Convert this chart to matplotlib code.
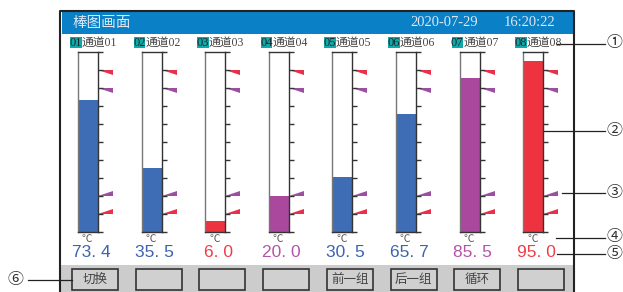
import matplotlib.pyplot as plt
from matplotlib.patches import Rectangle, Polygon
import matplotlib.transforms as mtransforms

# channel data
channel_ids = ["01", "02", "03", "04", "05", "06", "07", "08"]
channel_names = ["通道01", "通道02", "通道03", "通道04", "通道05", "通道06", "通道07", "通道08"]
values = [73.4, 35.5, 6.0, 20.0, 30.5, 65.7, 85.5, 95.0]
bar_colors = ["#3e6db5", "#3e6db5", "#ee3340", "#a9489d",
              "#3e6db5", "#3e6db5", "#a9489d", "#ee3340"]
value_colors = ["#3d63b0", "#3d63b0", "#f03c4a", "#b454a8",
                "#3d63b0", "#3d63b0", "#b454a8", "#f03c4a"]
unit = "℃"

# alarm flags: level, colour, direction (+1 flag above tick, -1 below)
alarm_levels = [90, 80, 20, 10]
alarm_colors = ["#e8304a", "#9b4fa0", "#9b4fa0", "#e8304a"]
alarm_dirs = [-1, -1, 1, 1]

buttons = ["切换", "", "", "", "前一组", "后一组", "循环", ""]
title = "棒图画面"
date_str = "2020-07-29"
time_str = "16:20:22"

CJK = ["Noto Sans CJK SC", "DejaVu Sans"]
SERIF = ["Liberation Serif", "Noto Sans CJK SC"]

W, H = 623, 292
fig = plt.figure(figsize=(W / 100, H / 100), dpi=100)
bg = fig.add_axes([0, 0, 1, 1])
bg.set_xlim(0, W)
bg.set_ylim(H, 0)
bg.axis("off")

# screen frame, title bar, button strip
bg.plot([60, 60, 573.8, 573.8], [292, 10.5, 10.5, 292], color="#222", lw=1.5)
bg.add_patch(Rectangle((61.5, 12), 511.3, 22, color="#0a80c6", lw=0))
bg.text(72, 23, title, color="#dce8f4", fontsize=10.5, family=CJK, va="center")
bg.text(410, 23, date_str, color="#dce8f4", fontsize=10.5, family=SERIF, va="center")
bg.text(555, 23, time_str, color="#dce8f4", fontsize=10.5, family=SERIF, va="center", ha="right")
bg.add_patch(Rectangle((61, 265), 512, 27, color="#cccccc", lw=0))

for i, label in enumerate(buttons):
    bx = 72 + 63.7 * i
    bg.add_patch(Rectangle((bx, 269), 46, 21, facecolor="#d0d0d0", edgecolor="#333", lw=1.2))
    bg.text(bx + 23, 279.5, label, color="#444", fontsize=9, family=CJK, ha="center", va="center")

# bars
bar_top, bar_bottom, bar_w = 51.7, 232.3, 20
for i, v in enumerate(values):
    left = 78 + 63.6 * i
    ax = fig.add_axes([left / W, (H - bar_bottom) / H, bar_w / W, (bar_bottom - bar_top) / H])
    ax.bar(0, v, width=1, color=bar_colors[i])
    ax.set_xlim(-0.5, 0.5)
    ax.set_ylim(0, 100)
    ax.set_xticks([])
    ax.yaxis.tick_right()
    ax.set_yticks(range(0, 101, 10))
    ax.tick_params(axis="y", direction="out", length=3.5, width=1, color="#333", labelright=False)
    for side, c in [("left", "#777"), ("right", "#333"), ("top", "#333"), ("bottom", "#333")]:
        ax.spines[side].set_color(c)
        ax.spines[side].set_linewidth(1)

    trans = mtransforms.blended_transform_factory(ax.transAxes, ax.transData)
    for lvl, col, d in zip(alarm_levels, alarm_colors, alarm_dirs):
        tri = Polygon([(1.0, lvl), (1.75, lvl), (1.75, lvl + d * 3.0)], closed=True,
                      color=col, transform=trans, clip_on=False, lw=0)
        ax.add_patch(tri)

    # channel label above
    bg.add_patch(Rectangle((left - 8, 36.8), 11.5, 11.5, color="#10a8a8", lw=0))
    bg.text(left - 2.3, 42.8, channel_ids[i], color="#1a2a2a", fontsize=9, family=SERIF,
            ha="center", va="center")
    bg.text(left + 3.5, 42.8, channel_names[i], color="#444", fontsize=8.5, family=SERIF,
            ha="left", va="center")

    # unit and value below
    bg.text(left + 9, 239.5, unit, color="#555", fontsize=7.5, family=CJK, ha="center", va="center")
    bg.text(left + 13, 252.5, f"{v:.1f}".replace(".", ". "), color=value_colors[i],
            fontsize=12.5, family=["Liberation Sans"], ha="center", va="center")

# callouts
callouts = [("①", 43.5, 557), ("②", 130.5, 543), ("③", 193, 562), ("④", 237.5, 556), ("⑤", 254, 557)]
for label, y, x0 in callouts:
    bg.plot([x0, 605], [y, y], color="#222", lw=0.9)
    bg.text(614.5, y - 0.5, label, color="#333", fontsize=11.5, family=CJK, ha="center", va="center")
bg.plot([28, 72], [280, 280], color="#222", lw=0.9)
bg.text(16, 279.5, "⑥", color="#333", fontsize=11.5, family=CJK, ha="center", va="center")

fig.savefig("out.png", dpi=100)
